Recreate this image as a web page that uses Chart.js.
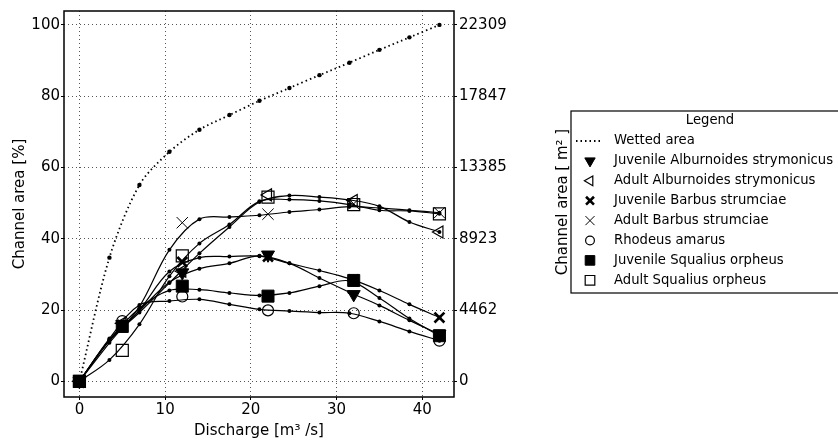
<!DOCTYPE html>
<html>
<head>
<meta charset="utf-8">
<script src="https://cdn.jsdelivr.net/npm/chart.js@4.4.0/dist/chart.umd.min.js"></script>
<style>
    html, body { margin: 0; padding: 0; background: #fff; }
    #wrap { width: 838px; height: 443px; }
</style>
</head>
<body>
<div id="wrap"><canvas id="myChart" width="838" height="443"></canvas></div>
<script>
// discharge values where the survey markers sit, and where the curves have dots
const dischargeMarks = [0, 5, 12, 22, 32, 42];
const dischargeCurve = [0, 3.5, 7, 10.5, 14, 17.5, 21, 24.5, 28, 31.5, 35, 38.5, 42];

const xTicks = [0, 10, 20, 30, 40];
const yTicks = [0, 20, 40, 60, 80, 100];
const areaTicks = [0, 4462, 8923, 13385, 17847, 22309];
const areaTotal = 22309;

const wettedArea = [0, 34.7, 55.1, 64.4, 70.6, 74.7, 78.7, 82.3, 85.9, 89.4, 93.0, 96.5, 100];

// curve dots (percent of channel area)
const juvAlburnoidesCurve = [0, 11.6, 19.8, 27.8, 31.6, 33.1, 35.2, 33.1, 29.0, 25.0, 21.3, 17.1, 13.2];
const adAlburnoidesCurve = [0, 11.5, 19.3, 27.6, 35.9, 43.3, 50.3, 52.1, 51.7, 50.9, 49.1, 44.7, 41.9];
const juvBarbusCurve = [0, 11.4, 20.0, 30.8, 34.7, 35.0, 35.1, 33.1, 31.1, 28.8, 25.5, 21.6, 17.9];
const adBarbusCurve = [0, 10.8, 21.0, 36.9, 45.5, 46.1, 46.6, 47.5, 48.2, 49.0, 48.6, 48.0, 47.3];
const rhodeusCurve = [0, 12.0, 21.4, 22.5, 23.0, 21.6, 20.2, 19.7, 19.3, 19.1, 16.8, 14.0, 11.4];
const juvSqualiusCurve = [0, 11.6, 20.5, 25.5, 25.7, 24.8, 24.1, 24.8, 26.7, 28.2, 23.4, 17.6, 12.8];
const adSqualiusCurve = [0, 6.0, 16.0, 29.5, 38.7, 44.0, 50.5, 51.0, 50.6, 49.6, 48.0, 47.8, 47.0];

// marker values at the surveyed discharges
const juvAlburnoidesMarks = [0, 16.0, 30.5, 35.5, 24.4, 13.2];
const adAlburnoidesMarks = [0, 16.3, 30.9, 52.3, 50.7, 41.9];
const juvBarbusMarks = [0, 15.8, 33.5, 35.0, 28.5, 17.9];
const adBarbusMarks = [0, 15.5, 44.5, 46.9, 49.8, 47.3];
const rhodeusMarks = [0, 16.9, 23.8, 19.9, 19.1, 11.4];
const juvSqualiusMarks = [0, 15.4, 26.7, 23.9, 28.3, 12.8];
const adSqualiusMarks = [0, 8.7, 35.2, 51.7, 49.6, 47.0];

const species = [
    { name: "Juvenile Alburnoides strymonicus", curve: juvAlburnoidesCurve, marks: juvAlburnoidesMarks,
      style: "triangle", rotation: 180, radius: 7.5, fill: "#000", width: 1 },
    { name: "Adult Alburnoides strymonicus", curve: adAlburnoidesCurve, marks: adAlburnoidesMarks,
      style: "triangle", rotation: -90, radius: 7, fill: "rgba(0,0,0,0)", width: 1.2 },
    { name: "Juvenile Barbus strumciae", curve: juvBarbusCurve, marks: juvBarbusMarks,
      style: "crossRot", rotation: 0, radius: 7, fill: "#000", width: 2.6 },
    { name: "Adult Barbus strumciae", curve: adBarbusCurve, marks: adBarbusMarks,
      style: "crossRot", rotation: 0, radius: 8, fill: "#000", width: 1 },
    { name: "Rhodeus amarus", curve: rhodeusCurve, marks: rhodeusMarks,
      style: "circle", rotation: 0, radius: 5.5, fill: "rgba(0,0,0,0)", width: 1.2 },
    { name: "Juvenile Squalius orpheus", curve: juvSqualiusCurve, marks: juvSqualiusMarks,
      style: "rect", rotation: 0, radius: 8.5, fill: "#000", width: 1 },
    { name: "Adult Squalius orpheus", curve: adSqualiusCurve, marks: adSqualiusMarks,
      style: "rect", rotation: 0, radius: 8.5, fill: "rgba(0,0,0,0)", width: 1.2 },
];

const FONT = "'DejaVu Sans', sans-serif";

function toPoints(xs, ys) {
    return xs.map((x, i) => ({ x: x, y: ys[i] }));
}

function createChart() {
    const datasets = [];

    datasets.push({
        label: "Wetted area",
        data: toPoints(dischargeCurve, wettedArea),
        showLine: true,
        borderColor: "#000",
        borderWidth: 1.8,
        borderDash: [1.5, 3],
        tension: 0.3,
        pointRadius: 2.2,
        pointBackgroundColor: "#000",
        pointBorderWidth: 0,
        order: 2,
    });

    species.forEach((s) => {
        datasets.push({
            label: s.name + " curve",
            data: toPoints(dischargeCurve, s.curve),
            showLine: true,
            borderColor: "#000",
            borderWidth: 1.2,
            tension: 0.35,
            pointRadius: 2,
            pointBackgroundColor: "#000",
            pointBorderWidth: 0,
            order: 1,
        });
        datasets.push({
            label: s.name,
            data: toPoints(dischargeMarks, s.marks),
            showLine: false,
            pointStyle: s.style,
            pointRotation: s.rotation,
            pointRadius: s.radius,
            pointBackgroundColor: s.fill,
            pointBorderColor: "#000",
            pointBorderWidth: s.width,
            order: 0,
        });
    });

    // frame, right axis title and the boxed legend
    const decor = {
        id: "decor",
        afterDraw(chart) {
            const ctx = chart.ctx;
            const a = chart.chartArea;
            ctx.save();
            ctx.strokeStyle = "#000";
            ctx.lineWidth = 1.5;
            ctx.strokeRect(a.left, a.top, a.right - a.left, a.bottom - a.top);

            // right axis title
            ctx.fillStyle = "#000";
            ctx.font = "15px " + FONT;
            ctx.textAlign = "center";
            ctx.textBaseline = "middle";
            ctx.translate(563, 202);
            ctx.rotate(-Math.PI / 2);
            ctx.fillText("Channel area [ m² ]", 0, 0);
            ctx.restore();

            // legend box
            ctx.save();
            ctx.strokeStyle = "#000";
            ctx.lineWidth = 1.2;
            ctx.strokeRect(571, 111, 278, 182);
            ctx.fillStyle = "#000";
            ctx.font = "13.2px " + FONT;
            ctx.textBaseline = "middle";
            ctx.textAlign = "center";
            ctx.fillText("Legend", 710, 121);
            ctx.textAlign = "left";

            const rowY = (i) => 141 + i * 19.9;
            ctx.beginPath();
            ctx.setLineDash([1.5, 3]);
            ctx.lineWidth = 1.8;
            ctx.moveTo(576, rowY(0));
            ctx.lineTo(601, rowY(0));
            ctx.stroke();
            ctx.setLineDash([]);
            ctx.fillText("Wetted area", 614, rowY(0));

            species.forEach((s, i) => {
                const y = rowY(i + 1);
                ctx.fillStyle = s.fill;
                ctx.strokeStyle = "#000";
                ctx.lineWidth = s.width;
                Chart.helpers.drawPoint(ctx, {
                    pointStyle: s.style,
                    rotation: s.rotation,
                    radius: s.radius * 0.8,
                    borderWidth: s.width,
                }, 590, y);
                ctx.fillStyle = "#000";
                ctx.fillText(s.name, 614, y);
            });
            ctx.restore();
        },
    };

    const config = {
        type: "scatter",
        data: { datasets: datasets },
        options: {
            responsive: false,
            devicePixelRatio: 1,
            animation: false,
            layout: { padding: { top: 7, right: 324, bottom: 0, left: 0 } },
            plugins: {
                legend: { display: false },
                tooltip: { enabled: false },
            },
            scales: {
                x: {
                    type: "linear",
                    min: -1.8,
                    max: 43.7,
                    afterBuildTicks: (scale) => {
                        scale.ticks = xTicks.map((v) => ({ value: v }));
                    },
                    afterFit: (scale) => { scale.height = 46; },
                    ticks: { color: "#000", font: { family: FONT, size: 15 }, padding: 1 },
                    grid: { color: "#555", lineWidth: 1, tickLength: 3, tickColor: "#000" },
                    border: { display: false, dash: [1, 3] },
                    title: {
                        display: true,
                        text: "Discharge [m³ /s]",
                        color: "#000",
                        font: { family: FONT, size: 15 },
                        padding: { top: 0, bottom: 3 },
                    },
                },
                y: {
                    position: "left",
                    min: -4.4,
                    max: 103.9,
                    afterBuildTicks: (scale) => {
                        scale.ticks = yTicks.map((v) => ({ value: v }));
                    },
                    afterFit: (scale) => { scale.width = 64; },
                    ticks: { color: "#000", font: { family: FONT, size: 15 }, padding: 1 },
                    grid: { color: "#555", lineWidth: 1, tickLength: 3, tickColor: "#000" },
                    border: { display: false, dash: [1, 3] },
                    title: {
                        display: true,
                        text: "Channel area [%]",
                        color: "#000",
                        font: { family: FONT, size: 15 },
                        padding: { top: 11, bottom: 0 },
                    },
                },
                y2: {
                    position: "right",
                    min: -4.4 * areaTotal / 100,
                    max: 103.9 * areaTotal / 100,
                    afterBuildTicks: (scale) => {
                        scale.ticks = areaTicks.map((v) => ({ value: v }));
                    },
                    afterFit: (scale) => { scale.width = 60; },
                    ticks: {
                        color: "#000",
                        font: { family: FONT, size: 15 },
                        padding: 2,
                        callback: (v) => String(v),
                    },
                    grid: { drawOnChartArea: false, tickLength: 3, color: "#000" },
                    border: { display: false },
                },
            },
        },
        plugins: [decor],
    };

    const myChart = new Chart(document.getElementById("myChart"), config);
}

createChart();
</script>
</body>
</html>
